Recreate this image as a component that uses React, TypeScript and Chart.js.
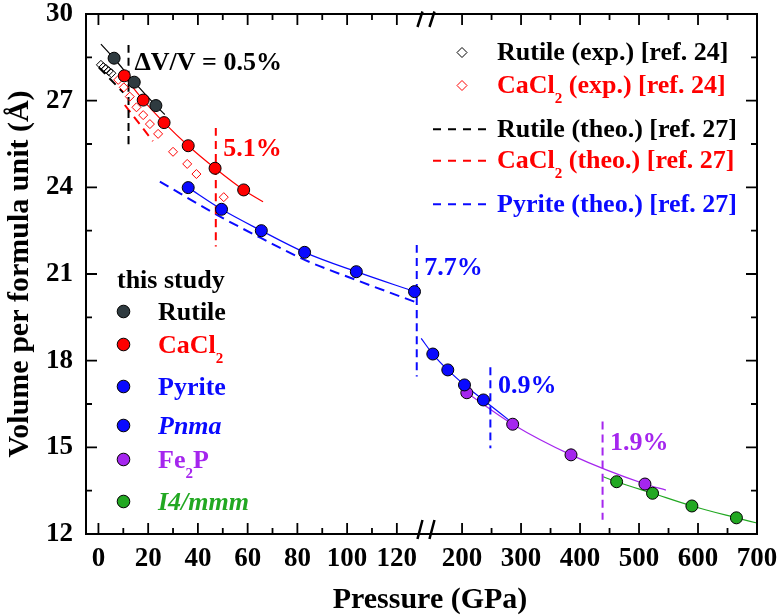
import { useEffect, useRef } from 'react';
import { Chart, registerables } from 'chart.js';

Chart.register(...registerables);

const FONT = '"Liberation Serif", "Times New Roman", serif';

// broken pressure axis: linear up to BREAK_P, compressed by RIGHT_K afterwards
const BREAK_P = 129.5;
const RIGHT_K = 0.2372;
const toU = (p: number) => (p <= BREAK_P ? p : BREAK_P + (p - BREAK_P) * RIGHT_K);

const X_MIN_U = -5.0;
const X_MAX_P = 700;
const Y_MIN = 12;
const Y_MAX = 30;

const xMajorTicks = [0, 20, 40, 60, 80, 100, 120, 200, 300, 400, 500, 600, 700];
const xTickLabels = ['0', '20', '40', '60', '80', '100', '120', '200', '300', '400', '500', '600', '700'];
const xMinorTicks = [10, 30, 50, 70, 90, 110, 250, 350, 450, 550, 650];
const yMajorTicks = [12, 15, 18, 21, 24, 27, 30];
const yTickLabels = ['12', '15', '18', '21', '24', '27', '30'];
const yMinorTicks = [13.5, 16.5, 19.5, 22.5, 25.5, 28.5];

// this study
const rutileP = [6.3, 14.4, 23.1];
const rutileV = [28.47, 27.64, 26.83];
const cacl2P = [10.4, 18.0, 26.4, 36.1, 46.9, 58.4];
const cacl2V = [27.86, 27.02, 26.24, 25.44, 24.66, 23.91];
const pyriteP = [36.1, 49.5, 65.5, 82.9, 103.7, 127.1];
const pyriteV = [23.99, 23.24, 22.5, 21.75, 21.08, 20.39];
const pnmaP = [150.4, 175.8, 204.1, 236.2];
const pnmaV = [18.23, 17.68, 17.16, 16.64];
const fe2pP = [208, 285.8, 384.7, 510];
const fe2pV = [16.89, 15.8, 14.74, 13.73];
const i4mP = [462, 522.9, 589.6, 665.1];
const i4mV = [13.81, 13.41, 12.97, 12.56];

// fitted curves
const rutileFitP = [1.0, 6.3, 14.4, 23.1, 26.7];
const rutileFitV = [28.96, 28.46, 27.64, 26.83, 26.52];
const cacl2FitP = [9.0, 18.0, 26.4, 36.1, 46.9, 58.4, 66.2];
const cacl2FitV = [27.98, 27.02, 26.24, 25.44, 24.66, 23.91, 23.5];
const pyriteFitP = [36.1, 49.5, 65.5, 82.9, 103.7, 127.1];
const pyriteFitV = [23.99, 23.24, 22.5, 21.75, 21.08, 20.39];
const pnmaFitP = [130.7, 150.4, 175.8, 204.1, 236.2, 279];
const pnmaFitV = [18.77, 18.23, 17.68, 17.16, 16.64, 15.95];
const fe2pFitP = [208, 285.8, 384.7, 510, 545.6];
const fe2pFitV = [16.89, 15.8, 14.74, 13.73, 13.52];
const i4mFitP = [439.4, 462, 522.9, 589.6, 665.1, 700];
const i4mFitV = [13.98, 13.81, 13.41, 12.97, 12.56, 12.38];

// experiment [ref. 24]
const rutileExpP = [1.0, 2.0, 3.0, 4.1, 5.2];
const rutileExpV = [28.24, 28.16, 28.1, 28.02, 27.95];
const cacl2ExpP = [7.95, 10.2, 12.6, 15.3, 18.0, 20.7, 24.0, 30.0, 35.7, 39.4, 50.4];
const cacl2ExpV = [27.72, 27.46, 27.14, 26.77, 26.5, 26.19, 25.85, 25.23, 24.81, 24.46, 23.66];

// theory [ref. 27]
const rutileTheoP = [0.2, 10.0];
const rutileTheoV = [28.15, 27.28];
const cacl2TheoP = [10.6, 21.9];
const cacl2TheoV = [26.85, 25.6];
const pyriteTheoP = [24.7, 49.5, 65.5, 82.9, 103.7, 127.1];
const pyriteTheoV = [24.2, 22.96, 22.24, 21.49, 20.79, 20.04];

// phase transitions
const transP = [12.1, 47.2, 128.0, 248, 438.2];
const transTopV = [28.93, 26.05, 22.0, 17.77, 15.89];
const transBottomV = [25.41, 21.95, 17.45, 14.97, 12.49];
const transLabels = ['\u0394V/V = 0.5%', '5.1%', '7.7%', '0.9%', '1.9%'];
const transLabelV = [28.06, 25.08, 20.97, 16.87, 14.91];

const COL = {
  rutile: '#2f3b40',
  red: '#ff0000',
  blue: '#0a0aff',
  purple: '#a526ee',
  green: '#22a822',
  black: '#000000',
};
const transColors = [COL.black, COL.red, COL.blue, COL.blue, COL.purple];

const pts = (ps: number[], vs: number[]) => ps.map((p, i) => ({ x: toU(p), y: vs[i] }));

const pointDs = (label: string, ps: number[], vs: number[], color: string) => ({
  label,
  data: pts(ps, vs),
  showLine: false,
  pointRadius: 6,
  pointHoverRadius: 6,
  pointBackgroundColor: color,
  pointBorderColor: '#000',
  pointBorderWidth: 1,
  order: 1,
});

const diamondDs = (label: string, ps: number[], vs: number[], color: string) => ({
  label,
  data: pts(ps, vs),
  showLine: false,
  pointStyle: 'rectRot',
  pointRadius: 4.5,
  pointHoverRadius: 4.5,
  pointBackgroundColor: 'rgba(0,0,0,0)',
  pointBorderColor: color,
  pointBorderWidth: 1,
  order: 3,
});

const lineDs = (label: string, ps: number[], vs: number[], color: string, width: number, dash: number[] = []) => ({
  label,
  data: pts(ps, vs),
  showLine: true,
  pointRadius: 0,
  pointHoverRadius: 0,
  borderColor: color,
  borderWidth: width,
  borderDash: dash,
  cubicInterpolationMode: 'monotone',
  fill: false,
  order: 5,
});

type Seg = { t: string; sub?: boolean; italic?: boolean };

function drawRich(ctx: CanvasRenderingContext2D, segs: Seg[], x: number, baseline: number, color: string, size = 26) {
  let cx = x;
  ctx.fillStyle = color;
  ctx.textAlign = 'left';
  ctx.textBaseline = 'alphabetic';
  for (const s of segs) {
    const fs = s.sub ? 15 : size;
    ctx.font = `${s.italic ? 'italic ' : ''}bold ${fs}px ${FONT}`;
    ctx.fillText(s.t, cx, s.sub ? baseline + 10 : baseline);
    cx += ctx.measureText(s.t).width;
  }
}

const decor = {
  id: 'decor',
  afterDraw(chart: any) {
    const { ctx, chartArea: a, scales } = chart;
    const xs = scales.x;
    const ys = scales.y;
    const X = (p: number) => xs.getPixelForValue(toU(p));
    const Y = (v: number) => ys.getPixelForValue(v);
    ctx.save();

    // frame
    ctx.strokeStyle = '#000';
    ctx.lineWidth = 2;
    ctx.setLineDash([]);
    ctx.strokeRect(a.left, a.top, a.right - a.left, a.bottom - a.top);

    // inward ticks on all sides
    const seg = (x1: number, y1: number, x2: number, y2: number) => {
      ctx.moveTo(x1, y1);
      ctx.lineTo(x2, y2);
    };
    ctx.lineWidth = 1.8;
    ctx.beginPath();
    xMajorTicks.forEach((p) => {
      const x = X(p);
      seg(x, a.bottom, x, a.bottom - 11);
      seg(x, a.top, x, a.top + 11);
    });
    xMinorTicks.forEach((p) => {
      const x = X(p);
      seg(x, a.bottom, x, a.bottom - 6);
      seg(x, a.top, x, a.top + 6);
    });
    yMajorTicks.forEach((v) => {
      const y = Y(v);
      seg(a.left, y, a.left + 11, y);
      seg(a.right, y, a.right - 11, y);
    });
    yMinorTicks.forEach((v) => {
      const y = Y(v);
      seg(a.left, y, a.left + 6, y);
      seg(a.right, y, a.right - 6, y);
    });
    ctx.stroke();

    // axis break marks
    const bx = X(BREAK_P) + 5.5;
    ctx.lineWidth = 2.5;
    ctx.beginPath();
    [-6, 6].forEach((d) => {
      seg(bx + d + 2.5, a.top - 2.5, bx + d - 2.5, a.top + 13);
      seg(bx + d + 2.5, a.bottom - 14, bx + d - 2.5, a.bottom + 5);
    });
    ctx.stroke();

    // transition labels
    transLabels.forEach((t, i) => {
      drawRich(ctx, [{ t }], X(transP[i]) + (i === 0 ? 6 : 7.5), Y(transLabelV[i]), transColors[i]);
    });

    // legend: references (top right)
    const refRows: { segs: Seg[]; color: string; kind: 'diamond' | 'dash'; base: number }[] = [
      { segs: [{ t: 'Rutile (exp.) [ref. 24]' }], color: COL.black, kind: 'diamond', base: 60 },
      { segs: [{ t: 'CaCl' }, { t: '2', sub: true }, { t: ' (exp.) [ref. 24]' }], color: COL.red, kind: 'diamond', base: 93 },
      { segs: [{ t: 'Rutile (theo.) [ref. 27]' }], color: COL.black, kind: 'dash', base: 136.7 },
      { segs: [{ t: 'CaCl' }, { t: '2', sub: true }, { t: ' (theo.) [ref. 27]' }], color: COL.red, kind: 'dash', base: 168.3 },
      { segs: [{ t: 'Pyrite (theo.) [ref. 27]' }], color: COL.blue, kind: 'dash', base: 211.7 },
    ];
    refRows.forEach((r) => {
      const my = r.base - 7.5;
      ctx.strokeStyle = r.color;
      if (r.kind === 'diamond') {
        ctx.lineWidth = 1;
        ctx.setLineDash([]);
        ctx.beginPath();
        ctx.moveTo(462, my - 5);
        ctx.lineTo(467, my);
        ctx.lineTo(462, my + 5);
        ctx.lineTo(457, my);
        ctx.closePath();
        ctx.stroke();
      } else {
        ctx.lineWidth = 2;
        ctx.setLineDash([8, 7]);
        ctx.beginPath();
        ctx.moveTo(433, my);
        ctx.lineTo(490, my);
        ctx.stroke();
        ctx.setLineDash([]);
      }
      drawRich(ctx, r.segs, 497, r.base, r.color);
    });

    // legend: this study (bottom left)
    drawRich(ctx, [{ t: 'this study' }], 117, 288, COL.black);
    const studyRows: { segs: Seg[]; color: string; base: number }[] = [
      { segs: [{ t: 'Rutile' }], color: COL.rutile, base: 320 },
      { segs: [{ t: 'CaCl' }, { t: '2', sub: true }], color: COL.red, base: 353 },
      { segs: [{ t: 'Pyrite' }], color: COL.blue, base: 395 },
      { segs: [{ t: 'Pnma', italic: true }], color: COL.blue, base: 434 },
      { segs: [{ t: 'Fe' }, { t: '2', sub: true }, { t: 'P' }], color: COL.purple, base: 468 },
      { segs: [{ t: 'I4/mmm', italic: true }], color: COL.green, base: 510 },
    ];
    studyRows.forEach((r, i) => {
      const cy = r.base - 8.5;
      ctx.setLineDash([]);
      ctx.beginPath();
      ctx.arc(123.5, cy, 6.3, 0, Math.PI * 2);
      ctx.fillStyle = r.color;
      ctx.fill();
      ctx.lineWidth = 1;
      ctx.strokeStyle = '#000';
      ctx.stroke();
      drawRich(ctx, r.segs, 158, r.base, i === 0 ? COL.black : r.color);
    });

    // axis titles
    ctx.fillStyle = '#000';
    ctx.font = `bold 30px ${FONT}`;
    ctx.textAlign = 'center';
    ctx.textBaseline = 'alphabetic';
    ctx.fillText('Pressure (GPa)', 430, 607.5);
    ctx.save();
    ctx.translate(28, (a.top + a.bottom) / 2);
    ctx.rotate(-Math.PI / 2);
    ctx.fillText('Volume per formula unit (\u00C5)', 0, 0);
    ctx.restore();

    ctx.restore();
  },
};

export default function App() {
  const ref = useRef<HTMLCanvasElement | null>(null);

  useEffect(() => {
    if (!ref.current) return;
    const datasets: any[] = [
      // transitions
      ...transP.map((p, i) =>
        lineDs('transition ' + transLabels[i], [p, p], [transTopV[i], transBottomV[i]], transColors[i], 2, [8, 5])
      ),
      // theory
      lineDs('Rutile (theo.)', rutileTheoP, rutileTheoV, COL.black, 2, [9, 6]),
      lineDs('CaCl2 (theo.)', cacl2TheoP, cacl2TheoV, COL.red, 2, [9, 6]),
      lineDs('Pyrite (theo.)', pyriteTheoP, pyriteTheoV, COL.blue, 2, [10, 6]),
      // fits
      lineDs('Rutile fit', rutileFitP, rutileFitV, COL.black, 1.2),
      lineDs('CaCl2 fit', cacl2FitP, cacl2FitV, COL.red, 1.2),
      lineDs('Pyrite fit', pyriteFitP, pyriteFitV, COL.blue, 1.2),
      lineDs('Pnma fit', pnmaFitP, pnmaFitV, COL.blue, 1.2),
      lineDs('Fe2P fit', fe2pFitP, fe2pFitV, COL.purple, 1.2),
      lineDs('I4/mmm fit', i4mFitP, i4mFitV, COL.green, 1.2),
      // experiments
      diamondDs('Rutile (exp.)', rutileExpP, rutileExpV, COL.black),
      diamondDs('CaCl2 (exp.)', cacl2ExpP, cacl2ExpV, COL.red),
      // this study
      pointDs('Rutile', rutileP, rutileV, COL.rutile),
      pointDs('CaCl2', cacl2P, cacl2V, COL.red),
      pointDs('Pyrite', pyriteP, pyriteV, COL.blue),
      pointDs('Pnma', pnmaP, pnmaV, COL.blue),
      pointDs('Fe2P', fe2pP, fe2pV, COL.purple),
      pointDs('I4/mmm', i4mP, i4mV, COL.green),
    ];

    const chart = new Chart(ref.current, {
      type: 'line',
      data: { datasets },
      options: {
        animation: false,
        responsive: false,
        devicePixelRatio: 1,
        events: [],
        layout: { padding: { left: 0, right: 23, top: 14, bottom: 0 } },
        plugins: {
          legend: { display: false },
          tooltip: { enabled: false },
          title: { display: false },
        },
        scales: {
          x: {
            type: 'linear',
            min: X_MIN_U,
            max: toU(X_MAX_P),
            grid: { display: false, drawTicks: false, tickLength: 0 },
            border: { display: false },
            ticks: {
              autoSkip: false,
              maxRotation: 0,
              minRotation: 0,
              padding: 9,
              color: '#000',
              font: { family: FONT, size: 27, weight: 'bold' },
              callback: (_v: any, i: number) => xTickLabels[i] ?? '',
            },
            afterBuildTicks: (s: any) => {
              s.ticks = xMajorTicks.map((p) => ({ value: toU(p) }));
            },
            afterFit: (s: any) => {
              s.height = 82;
              s.paddingLeft = 0;
              s.paddingRight = 0;
              s.paddingTop = 0;
              s.paddingBottom = 0;
            },
          },
          y: {
            type: 'linear',
            min: Y_MIN,
            max: Y_MAX,
            grid: { display: false, drawTicks: false, tickLength: 0 },
            border: { display: false },
            ticks: {
              autoSkip: false,
              padding: 13,
              color: '#000',
              font: { family: FONT, size: 27, weight: 'bold' },
              callback: (_v: any, i: number) => yTickLabels[i] ?? '',
            },
            afterBuildTicks: (s: any) => {
              s.ticks = yMajorTicks.map((v) => ({ value: v }));
            },
            afterFit: (s: any) => {
              s.width = 86;
              s.paddingLeft = 0;
              s.paddingRight = 0;
              s.paddingTop = 0;
              s.paddingBottom = 0;
            },
          },
        },
      } as any,
      plugins: [decor],
    });
    return () => chart.destroy();
  }, []);

  return (
    <div style={{ position: 'fixed', left: 0, top: 0, width: 780, height: 616, background: '#fff' }}>
      <canvas ref={ref} width={780} height={616} style={{ display: 'block' }} />
    </div>
  );
}
